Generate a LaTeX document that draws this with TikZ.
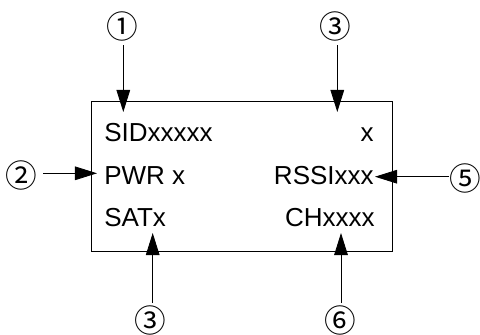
\documentclass[tikz,border=0pt]{standalone}
\usepackage{fontspec}
\setmainfont{Liberation Sans}
\newfontfamily\circfont{Noto Sans CJK JP}
\usepackage{tikz}
\usetikzlibrary{arrows.meta}

\begin{document}
\begin{tikzpicture}[x=0.025cm, y=-0.025cm,
    lcd/.style={inner sep=0pt, font=\fontsize{18.5}{21}\selectfont},
    callout/.style={inner sep=0pt, font=\circfont\fontsize{22.5}{25}\selectfont},
    pointer/.style={line width=0.6pt, -{Triangle[length=5.5mm, width=3.4mm]}}]
    \useasboundingbox (0,0) rectangle (480,335);
    % display frame
    \draw[line width=0.8pt] (91.7,101.7) rectangle (392.7,251.7);
    % display fields
    \node[lcd, anchor=base west] (sid)  at (104,141.5) {SIDxxxxx};
    \node[lcd, anchor=base west] (pwr)  at (104,184) {PWR x};
    \node[lcd, anchor=base west] (sat)  at (104,226) {SATx};
    \node[lcd, anchor=base east] (mode) at (374,141.5) {x};
    \node[lcd, anchor=base east] (rssi) at (374,184) {RSSIxxx};
    \node[lcd, anchor=base east] (ch)   at (375,226) {CHxxxx};
    % callouts
    \node[callout] (c1)  at (122,26)  {①};
    \node[callout] (c3a) at (335,26)  {③};
    \node[callout] (c2)  at (21.7,175) {②};
    \node[callout] (c5)  at (465,178) {⑤};
    \node[callout] (c3b) at (150,320) {③};
    \node[callout] (c6)  at (340,320) {⑥};
    % arrow ends
    \coordinate (t1)  at (123.3,112);
    \coordinate (t3a) at (337.3,112);
    \coordinate (t2)  at (97,173.3);
    \coordinate (t5)  at (375,176.7);
    \coordinate (t3b) at (152.7,233);
    \coordinate (t6)  at (341,233);
    \draw[pointer] (123.3,45) -- (t1);
    \draw[pointer] (337.3,45) -- (t3a);
    \draw[pointer] (43,173.3) -- (t2);
    \draw[pointer] (449,176.7) -- (t5);
    \draw[pointer] (152.7,303) -- (t3b);
    \draw[pointer] (341,303) -- (t6);
\end{tikzpicture}
\end{document}
